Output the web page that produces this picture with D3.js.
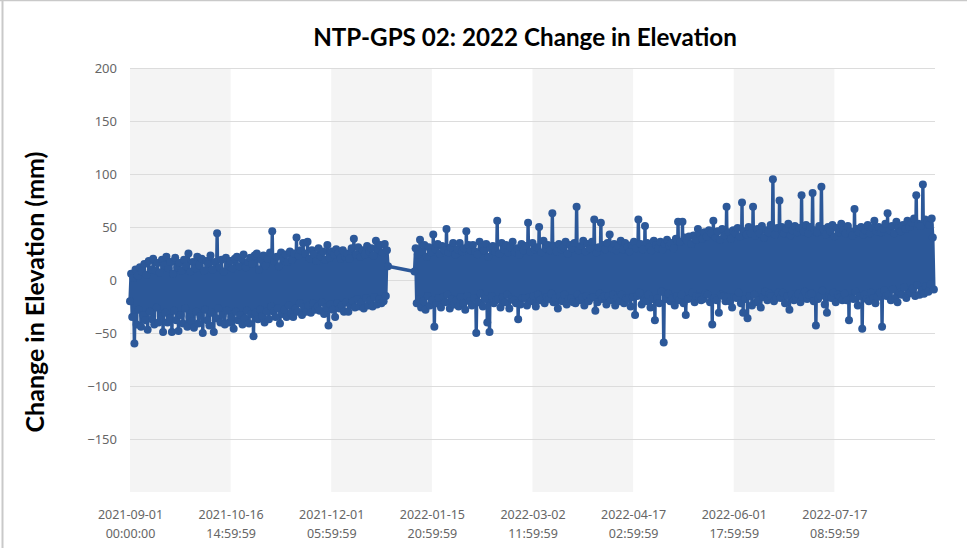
<!DOCTYPE html>
<html>
<head>
<meta charset="utf-8">
<script src="https://cdn.jsdelivr.net/npm/d3@7"></script>
<style>
  html, body { margin: 0; padding: 0; background: #fff; }
  svg { display: block; }
</style>
</head>
<body>
<svg id="chart" width="967" height="548"></svg>
<script>
// NTP-GPS 02 station: change in elevation (mm), one sample every 12 hours.
const chartTitle = "NTP-GPS 02: 2022 Change in Elevation";
const yAxisTitle = "Change in Elevation (mm)";

const xTickLabels = [
  "2021-09-01 00:00:00", "2021-10-16 14:59:59", "2021-12-01 05:59:59", "2022-01-15 20:59:59",
  "2022-03-02 11:59:59", "2022-04-17 02:59:59", "2022-06-01 17:59:59", "2022-07-17 08:59:59"
];
const yTicks = [200, 150, 100, 50, 0, -50, -100, -150];
const yDomain = [-200, 200];
const xDomain = ["2021-09-01 00:00:00", "2022-09-01 00:00:00"];

const sampleHours = 12;

// First campaign: 2021-09-01 to 2021-12-27
const segment1Start = "2021-09-01 00:00:00";
const segment1Values = [
  -20, 6, -35, 2, -60, 10, -42, 4, -28, 12,
  -44, 8, -33, 15, -38, 5, -47, 18, -30, 10,
  -37, 20, -42, 9, -26, 16, -40, 7, -34, 19,
  -49, 14, -31, 22, -40, 11, -36, 17, -49, 6,
  -29, 21, -38, 12, -48, 16, -33, 9, -41, 19,
  -27, 13, -44, 25, -35, 8, -39, 17, -45, 11,
  -30, 22, -41, 14, -34, 20, -50, 9, -28, 18,
  -38, 15, -43, 23, -31, 10, -49, 17, -36, 44,
  -27, 12, -40, 19, -33, 8, -42, 21, -29, 14,
  -40, 18, -35, 11, -46, 20, -30, 22, -38, 13,
  -33, 20, -42, 24, -36, 12, -29, 17, -41, 21,
  -32, 15, -53, 23, -31, 25, -37, 10, -28, 19,
  -34, 23, -40, 14, -30, 20, -37, 26, -25, 46,
  -30, 18, -35, 22, -27, 13, -41, 26, -32, 21,
  -28, 24, -35, 17, -24, 27, -31, 19, -35, 25,
  -27, 40, -30, 23, -22, 28, -33, 35, -26, 25,
  -30, 36, -24, 20, -31, 28, -22, 24, -28, 18,
  -25, 30, -29, 22, -21, 27, -32, 19, -26, 33,
  -43, 21, -23, 27, -28, 24, -35, 29, -22, 26,
  -27, 20, -24, 28, -30, 22, -21, 25, -30, 20,
  -24, 30, -20, 39, -26, 24, -18, 31, -25, 22,
  -21, 28, -27, 24, -17, 32, -24, 27, -19, 30,
  -25, 23, -16, 37, -23, 29, -18, 33, -22, 26,
  -20, 34, -15, 28, 13
];

// Second campaign: 2022-01-08 to 2022-08-31
const segment2Start = "2022-01-08 00:00:00";
const segment2Values = [
  8, 30, -22, 24, -18, 38, -26, 27, -20, 33,
  -28, 22, -15, 31, -24, 26, -19, 43, -44, 29,
  -22, 34, -17, 25, -26, 32, -16, 28, -21, 48,
  -14, 26, -27, 31, -18, 35, -23, 24, -19, 29,
  -25, 35, -16, 27, -22, 30, -28, 46, -15, 33,
  -20, 28, -24, 33, -17, 27, -50, 24, -21, 36,
  -13, 31, -25, 28, -18, 34, -40, 22, -49, 30,
  -15, 32, -22, 27, -19, 56, -18, 25, -26, 35,
  -16, 29, -21, 33, -14, 26, -27, 31, -18, 36,
  -19, 26, -22, 30, -37, 24, -23, 34, -17, 28,
  -17, 32, -24, 54, -16, 27, -20, 35, -15, 29,
  -25, 31, -14, 50, -19, 26, -18, 37, -22, 30,
  -16, 33, -18, 28, -13, 63, -21, 32, -17, 27,
  -27, 34, -15, 29, -20, 31, -14, 36, -23, 25,
  -18, 33, -17, 30, -21, 35, -22, 69, -14, 28,
  -19, 32, -16, 37, -24, 27, -15, 34, -20, 30,
  -17, 36, -16, 57, -29, 26, -21, 31, -13, 54,
  -18, 33, -15, 29, -23, 35, -15, 43, -19, 30,
  -14, 34, -24, 28, -17, 32, -20, 37, -14, 29,
  -22, 35, -17, 31, -18, 27, -25, 33, -16, 36,
  -33, 30, -15, 57, -12, 34, -23, 29, -19, 51,
  -20, 35, -14, 31, -26, 28, -18, 37, -38, 33,
  -17, 30, -22, 36, -11, 29, -59, 34, -18, 38,
  -13, 32, -20, 35, -17, 30, -24, 39, -15, 55,
  -19, 36, -14, 55, -22, 40, -33, 37, -18, 41,
  -17, 34, -12, 42, -21, 38, -15, 48, -16, 43,
  -19, 39, -18, 45, -13, 41, -14, 47, -21, 44,
  -42, 56, -17, 40, -19, 46, -31, 38, -14, 48,
  -15, 42, -20, 69, -16, 45, -20, 39, -26, 47,
  -16, 44, -17, 49, -12, 41, -22, 73, -31, 46,
  -18, 43, -36, 50, -15, 44, -24, 69, -14, 42,
  -21, 48, -19, 44, -26, 51, -16, 40, -11, 47,
  -19, 45, -13, 52, -15, 95, -20, 43, -17, 49,
  -12, 75, -17, 50, -12, 44, -22, 48, -15, 53,
  -28, 42, -14, 47, -19, 51, -16, 45, -13, 49,
  -21, 80, -16, 46, -11, 52, -18, 44, -14, 50,
  -13, 82, -20, 47, -43, 45, -18, 51, -15, 88,
  -10, 48, -23, 43, -31, 50, -16, 46, -17, 52,
  -12, 41, -21, 49, -14, 45, -16, 53, -19, 47,
  -13, 44, -19, 51, -38, 46, -17, 42, -18, 67,
  -11, 48, -24, 45, -15, 50, -46, 43, -14, 47,
  -18, 52, -20, 44, -12, 49, -17, 56, -22, 46,
  -16, 50, -12, 45, -44, 48, -10, 53, -15, 63,
  -14, 47, -19, 51, -9, 44, -17, 55, -21, 49,
  -12, 46, -14, 52, -7, 48, -17, 56, -13, 50,
  -12, 54, -8, 58, -15, 80, -5, 53, -14, 51,
  -10, 90, -13, 57, -6, 55, -11, 52, -4, 58,
  40, -9
];

const parseTime = d3.timeParse("%Y-%m-%d %H:%M:%S");

function toPoints(startText, values) {
  const start = parseTime(startText);
  return values.map((v, i) => ({ t: d3.timeHour.offset(start, i * sampleHours), v }));
}
const series = toPoints(segment1Start, segment1Values).concat(toPoints(segment2Start, segment2Values));

const svg = d3.select("#chart");
const W = 967, H = 548;
const margin = { left: 130, right: 32, top: 68, bottom: 56 };
const plotW = W - margin.left - margin.right;
const plotH = H - margin.top - margin.bottom;

const x = d3.scaleTime()
  .domain(xDomain.map(parseTime))
  .range([margin.left, margin.left + plotW]);
const y = d3.scaleLinear()
  .domain(yDomain)
  .range([margin.top + plotH, margin.top]);

// Frame around the figure
svg.append("line").attr("x1", 2.5).attr("x2", 2.5).attr("y1", 0).attr("y2", H)
  .attr("stroke", "#c9c9c9").attr("stroke-width", 2);
svg.append("line").attr("x1", 0).attr("x2", W).attr("y1", 0.5).attr("y2", 0.5)
  .attr("stroke", "#c9c9c9").attr("stroke-width", 1.5);

// Alternating shaded bands between x ticks
const tickDates = xTickLabels.map(parseTime);
const bandPairs = [];
for (let k = 0; k + 1 < tickDates.length; k += 2) bandPairs.push([tickDates[k], tickDates[k + 1]]);
svg.append("g").selectAll("rect").data(bandPairs).join("rect")
  .attr("x", d => x(d[0]))
  .attr("width", d => x(d[1]) - x(d[0]))
  .attr("y", y(yDomain[1]))
  .attr("height", y(yDomain[0]) - y(yDomain[1]))
  .attr("fill", "#f4f4f4");

// Horizontal gridlines and y labels
const yAxis = d3.axisLeft(y).tickValues(yTicks).tickSize(-plotW).tickPadding(13);
const gy = svg.append("g").attr("transform", `translate(${margin.left},0)`).call(yAxis);
gy.select(".domain").remove();
gy.selectAll(".tick line").attr("stroke", "#dcdcdc").attr("stroke-width", 1);
gy.selectAll(".tick text")
  .attr("fill", "#666").attr("font-family", "'Noto Sans', sans-serif").attr("font-size", 13);

// x tick labels (date over time)
const xAxis = d3.axisBottom(x).tickValues(tickDates).tickSize(0).tickFormat("");
const gx = svg.append("g").attr("transform", `translate(0,${margin.top + plotH})`).call(xAxis);
gx.select(".domain").remove();
gx.selectAll(".tick").each(function (d, i) {
  const parts = xTickLabels[i].split(" ");
  const t = d3.select(this).append("text")
    .attr("fill", "#666").attr("font-family", "'Noto Sans', sans-serif").attr("font-size", 12.5)
    .attr("text-anchor", "middle");
  t.append("tspan").attr("x", 0).attr("y", 27).text(parts[0]);
  t.append("tspan").attr("x", 0).attr("y", 46).text(parts[1]);
});

// Series: connecting line plus markers
const color = "#2c5899";
const line = d3.line().x(d => x(d.t)).y(d => y(d.v));
svg.append("path").datum(series)
  .attr("d", line).attr("fill", "none")
  .attr("stroke", color).attr("stroke-width", 3.4).attr("stroke-linejoin", "round");
svg.append("g").selectAll("circle").data(series).join("circle")
  .attr("cx", d => x(d.t)).attr("cy", d => y(d.v)).attr("r", 4)
  .attr("fill", color);

// Titles, sized to their spans
function fitText(sel, targetWidth) {
  const w = sel.node().getComputedTextLength();
  const fs = parseFloat(sel.attr("font-size"));
  sel.attr("font-size", fs * targetWidth / w);
}
const title = svg.append("text")
  .attr("x", 525).attr("y", 46).attr("text-anchor", "middle")
  .attr("font-family", "Lato, 'Open Sans', sans-serif").attr("font-weight", "bold")
  .attr("font-size", 22).attr("fill", "#000").text(chartTitle);
fitText(title, 424);

const yTitle = svg.append("text")
  .attr("transform", "translate(44,292) rotate(-90)").attr("text-anchor", "middle")
  .attr("font-family", "Lato, 'Open Sans', sans-serif").attr("font-weight", "bold")
  .attr("font-size", 20).attr("fill", "#000").text(yAxisTitle);
fitText(yTitle, 281);
</script>
</body>
</html>
